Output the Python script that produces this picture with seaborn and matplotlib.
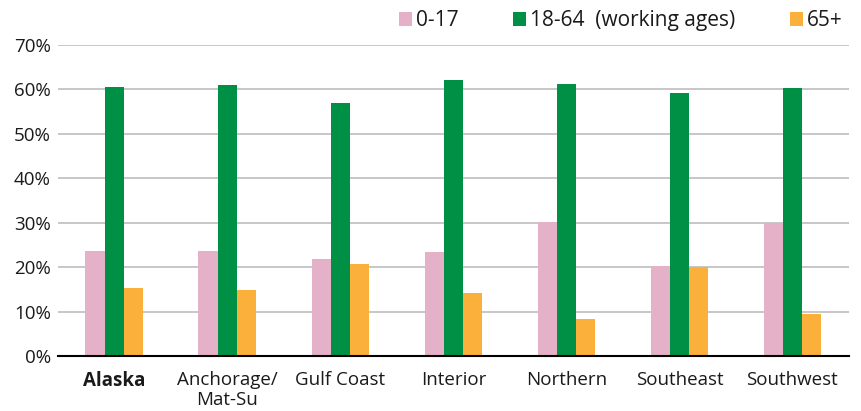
import seaborn as sns
import matplotlib.pyplot as plt
import pandas as pd
from matplotlib.ticker import PercentFormatter

# --- Data (share of population by age group, %) ---
regions = ["Alaska", "Anchorage/\nMat-Su", "Gulf Coast", "Interior",
           "Northern", "Southeast", "Southwest"]
age_groups = ["0-17", "18-64  (working ages)", "65+"]
ages_0_17 = [23.6, 23.6, 21.9, 23.4, 30.2, 20.3, 30.0]
ages_18_64 = [60.6, 61.1, 57.0, 62.2, 61.3, 59.3, 60.4]
ages_65_up = [15.4, 14.9, 20.8, 14.1, 8.3, 20.0, 9.4]
colors = ["#E4B1C9", "#009045", "#FBB03B"]

df = pd.DataFrame({
    "Region": regions * 3,
    "Age": [age_groups[0]] * 7 + [age_groups[1]] * 7 + [age_groups[2]] * 7,
    "Share": ages_0_17 + ages_18_64 + ages_65_up,
})

# --- Visualization ---
sns.set_style("white")
plt.rcParams["font.family"] = ["Open Sans", "DejaVu Sans"]

fig = plt.figure(figsize=(8.61, 4.11), dpi=100)
ax = fig.add_axes([0.0671, 0.1338, 0.9189, 0.7567])

sns.barplot(data=df, x="Region", y="Share", hue="Age", hue_order=age_groups,
            palette=colors, width=0.51, gap=0, edgecolor="none",
            linewidth=0, saturation=1, ax=ax)

ax.set_ylim(0, 70)
ax.set_yticks(range(0, 71, 10))
ax.yaxis.set_major_formatter(PercentFormatter(decimals=0))
ax.grid(axis="y", color="#BDBDBD", linewidth=1.2)
ax.set_axisbelow(True)
ax.set_xlabel("")
ax.set_ylabel("")
sns.despine(ax=ax, left=True)
ax.spines["bottom"].set_color("black")
ax.spines["bottom"].set_linewidth(1.5)
ax.spines["bottom"].set_zorder(5)
ax.tick_params(axis="both", length=0, labelsize=13.5, colors="#1a1a1a")
ax.tick_params(axis="y", pad=5)
ax.tick_params(axis="x", pad=11)
for lbl in ax.get_xticklabels():
    lbl.set_linespacing(1.15)
    if lbl.get_text() == "Alaska":
        lbl.set_fontweight("bold")

ax.legend_.remove()
handles, labels = ax.get_legend_handles_labels()
fig.legend(handles, labels, loc="upper right", bbox_to_anchor=(0.979, 0.975),
           ncol=3, frameon=False, fontsize=15, handlelength=0.63,
           handleheight=0.63, handletextpad=0.2, columnspacing=2.6,
           borderpad=0, borderaxespad=0, labelcolor="#1a1a1a")

plt.savefig("out.png", dpi=100)
plt.close()
